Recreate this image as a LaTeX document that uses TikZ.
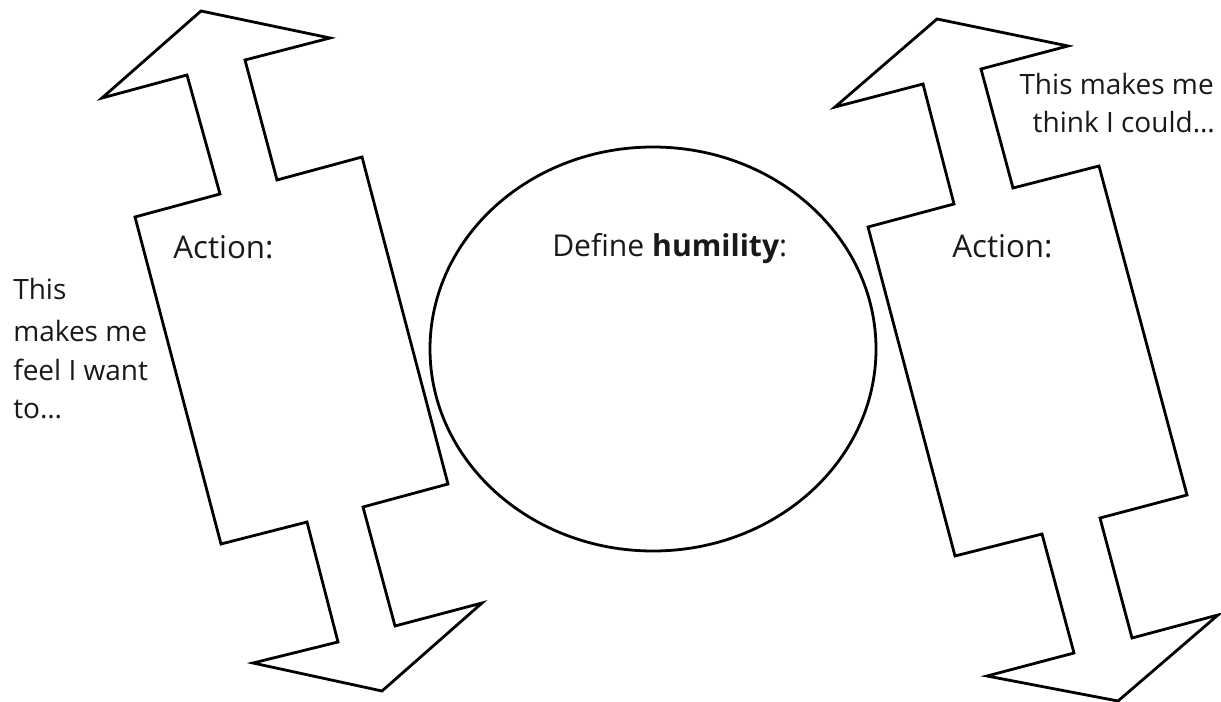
\documentclass[tikz,border=0pt]{standalone}
\usepackage{fontspec}
\usetikzlibrary{shapes.geometric}
\setmainfont{Open Sans}[Ligatures={NoCommon}]
\begin{document}
\begin{tikzpicture}[x=0.75pt,y=-0.75pt,
  shapeline/.style={draw=black,line width=2.1pt,line join=miter},
  lbl/.style={inner sep=0pt,text=black!90,font=\fontsize{21}{29}\selectfont},
  biglbl/.style={lbl,font=\fontsize{23.5}{29}\selectfont},
  deflbl/.style={lbl,font=\fontsize{22.6}{29}\selectfont}]
\useasboundingbox (0,0) rectangle (1221,702);
% left double arrow
\draw[shapeline] (201,11) -- (330,38) -- (245,60) -- (277,180) -- (362,157)
  -- (448,484) -- (363,507) -- (395,626) -- (482,603) -- (382,691)
  -- (253,663) -- (338,642) -- (307,522) -- (221,544) -- (135,217)
  -- (220,194) -- (187,75) -- (102,98) -- cycle;
% right double arrow
\draw[shapeline] (937,19) -- (1068,46) -- (981,69) -- (1013,188) -- (1099,166)
  -- (1187,495) -- (1100,518) -- (1132,638) -- (1218,615) -- (1118,701)
  -- (987,676) -- (1074,653) -- (1042,534) -- (955,556) -- (868,227)
  -- (954,204) -- (923,84) -- (835,107) -- cycle;
% ellipse
\node[shapeline,ellipse,minimum width=334.5pt,minimum height=303pt,inner sep=0pt] (ell) at (653,349) {};
% texts
\node[biglbl,anchor=base west] (act1) at (173,259) {Action:};
\node[biglbl,anchor=base west] (act2) at (952,258) {Action:};
\node[deflbl,anchor=base west] (def) at (552,257) {Define \textbf{humility}:};
\node[lbl,anchor=base west] (l1) at (13,300) {This};
\node[lbl,anchor=base west] (l2) at (13,341) {makes me};
\node[lbl,anchor=base west] (l3) at (13,380) {feel I want};
\node[lbl,anchor=base west] (l4) at (13,418) {to…};
\node[lbl,anchor=base east] (r1) at (1214,95) {This makes me};
\node[lbl,anchor=base east] (r2) at (1215,133) {think I could…};
\end{tikzpicture}
\end{document}
